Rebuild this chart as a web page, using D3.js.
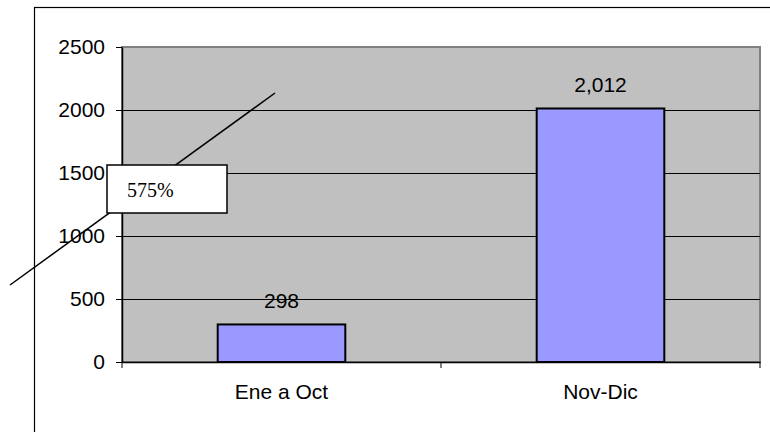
<!DOCTYPE html>
<html>
<head>
<meta charset="utf-8">
<script src="https://cdn.jsdelivr.net/npm/d3@7"></script>
<style>
  html, body { margin: 0; padding: 0; background: #fff; overflow: hidden; }
  svg { display: block; }
  .tick text { font-family: "Liberation Sans", Arial, sans-serif; font-size: 21px; fill: #000; }
</style>
</head>
<body>
<div id="chart"></div>
<script>
// data
const categories = ["Ene a Oct", "Nov-Dic"];
const values = [298, 2012];
const yTicks = [0, 500, 1000, 1500, 2000, 2500];
const yMax = 2500;
const noteText = "575%";

const width = 770, height = 432;
const plot = {left: 122, top: 47, right: 760, bottom: 362};

const svg = d3.select("#chart")
    .append("svg")
    .attr("width", width)
    .attr("height", height);

// outer chart frame (runs off the right and bottom)
svg.append("rect")
    .attr("x", 34.5).attr("y", 7.5)
    .attr("width", 800).attr("height", 500)
    .attr("fill", "#fff")
    .attr("stroke", "#000")
    .attr("stroke-width", 1.2);

const x = d3.scaleBand()
    .domain(categories)
    .range([plot.left, plot.right])
    .paddingInner(0.6)
    .paddingOuter(0.3);

const y = d3.scaleLinear()
    .domain([0, yMax])
    .range([plot.bottom, plot.top]);

// plot area
svg.append("rect")
    .attr("x", plot.left).attr("y", plot.top)
    .attr("width", plot.right - plot.left)
    .attr("height", plot.bottom - plot.top)
    .attr("fill", "#c0c0c0")
    .attr("stroke", "#808080")
    .attr("stroke-width", 2);

// gridlines
svg.append("g")
    .selectAll("line")
    .data(yTicks.filter(d => d > 0 && d < yMax))
    .join("line")
    .attr("x1", plot.left).attr("x2", plot.right)
    .attr("y1", d => Math.round(y(d)) + 0.5)
    .attr("y2", d => Math.round(y(d)) + 0.5)
    .attr("stroke", "#000")
    .attr("stroke-width", 1);

// bars
svg.append("g")
    .selectAll("rect")
    .data(values)
    .join("rect")
    .attr("x", (d, i) => x(categories[i]))
    .attr("y", d => y(d))
    .attr("width", x.bandwidth())
    .attr("height", d => plot.bottom - y(d))
    .attr("fill", "#9999ff")
    .attr("stroke", "#000")
    .attr("stroke-width", 2);

// value labels
svg.append("g")
    .selectAll("text")
    .data(values)
    .join("text")
    .attr("x", (d, i) => x(categories[i]) + x.bandwidth() / 2)
    .attr("y", d => y(d) - 16)
    .attr("text-anchor", "middle")
    .style("font-family", '"Liberation Sans", Arial, sans-serif')
    .style("font-size", "21px")
    .text(d3.format(","));

// y axis
const yAxis = d3.axisLeft(y)
    .tickValues(yTicks)
    .tickFormat(d3.format("d"))
    .tickSizeInner(6)
    .tickSizeOuter(0)
    .tickPadding(11);
const gy = svg.append("g")
    .attr("transform", `translate(${plot.left},0)`)
    .call(yAxis);
gy.select(".domain").attr("stroke", "#000").attr("stroke-width", 1.5);
gy.selectAll(".tick line").attr("stroke", "#000");

// x axis
const gx = svg.append("g")
    .attr("transform", `translate(0,${plot.bottom})`)
    .call(d3.axisBottom(x).tickSize(0).tickPadding(22));
gx.select(".domain").attr("stroke", "#000").attr("stroke-width", 1.5);
gx.selectAll(".tick text").attr("dy", "0.71em");

// category separators on x axis
const edges = [plot.left].concat(categories.map(c => x(c) + x.bandwidth() / 2 + x.step() / 2));
svg.append("g")
    .selectAll("line")
    .data(edges)
    .join("line")
    .attr("x1", d => d).attr("x2", d => d)
    .attr("y1", plot.bottom).attr("y2", plot.bottom + 6)
    .attr("stroke", "#000");

// annotation line + text box
svg.append("line")
    .attr("x1", 10).attr("y1", 285)
    .attr("x2", 275).attr("y2", 93)
    .attr("stroke", "#000")
    .attr("stroke-width", 1.5);

svg.append("rect")
    .attr("x", 107).attr("y", 165)
    .attr("width", 120).attr("height", 48)
    .attr("fill", "#fff")
    .attr("stroke", "#000")
    .attr("stroke-width", 1.5);

svg.append("text")
    .attr("x", 127).attr("y", 197)
    .style("font-family", '"Liberation Serif", "Times New Roman", serif')
    .style("font-size", "20px")
    .text(noteText);
</script>
</body>
</html>
